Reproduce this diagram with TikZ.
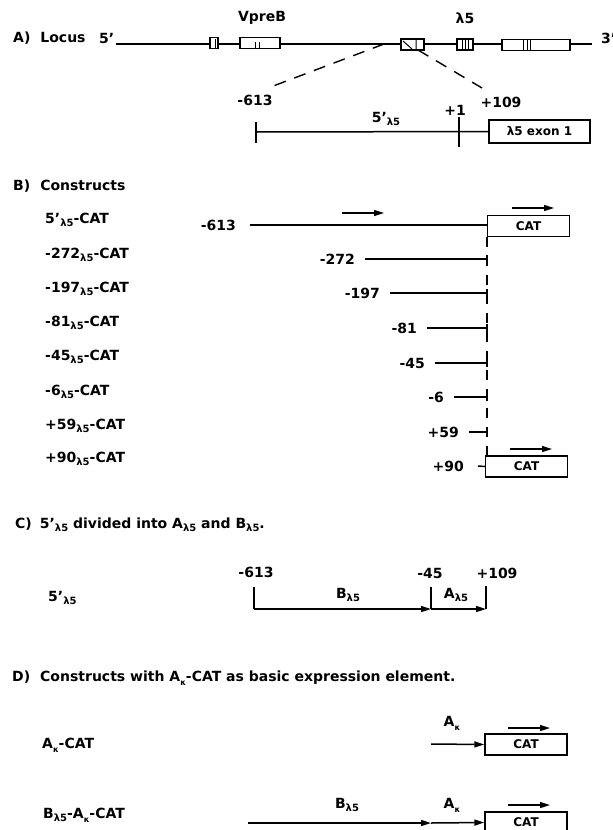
\documentclass[tikz,border=0pt]{standalone}
\usepackage{fontspec}
\setmainfont{DejaVu Sans}
\usetikzlibrary{arrows.meta,positioning}
\newcommand{\sublf}{\raisebox{-0.4ex}{\fontsize{10}{10}\selectfont λ5}}
\newcommand{\subk}{\raisebox{-0.55ex}{\fontsize{8}{8}\selectfont κ}}
\tikzset{
  dna/.style={draw=black, line width=1.5pt},
  tk/.style={draw=black, line width=1.5pt},
  inmark/.style={draw=black, line width=1pt},
  arr/.style={-{Triangle[length=10pt,width=6pt]}, draw=black, line width=1.5pt},
  guide/.style={draw=black, line width=1.4pt, dash pattern=on 10pt off 9pt},
  exon/.style={draw=black, fill=white, line width=1.4pt, inner sep=0pt, minimum height=11pt},
  exbox/.style={draw=black, fill=white, line width=1.4pt, inner sep=0pt,
    minimum width=101pt, minimum height=23pt, font=\fontsize{12}{13}\selectfont\bfseries},
  catbox/.style={draw=black, fill=white, line width=1.4pt, inner sep=0pt,
    minimum width=82pt, minimum height=21pt, font=\fontsize{12}{13}\selectfont\bfseries},
  lbl/.style={anchor=west, inner sep=0pt},
  num/.style={inner sep=0pt}
}
\begin{document}
\begin{tikzpicture}[x=1pt, y=-1pt, font=\fontsize{14}{16}\selectfont\bfseries]
  \useasboundingbox (0,0) rectangle (613,830);

  % A) the locus
  \node[lbl] (tA) at (13,38) {A)\hspace{10pt}Locus};
  \node[lbl] (p5) at (99,38) {5'};
  \node[lbl] (p3) at (601,38) {3'};
  \coordinate (l5) at (116,44);
  \coordinate (l3) at (592,44);
  \draw[dna] (l5) -- (l3);
  \node[exon, minimum width=8pt] (vb1) at (214,43) {};
  \node[exon, minimum width=40pt] (vb2) at (260,43) {};
  \node[exon, minimum width=23pt] (lx1) at (412.5,44.5) {};
  \node[exon, minimum width=16pt] (lx2) at (465,44.5) {};
  \node[exon, minimum width=68pt] (lx3) at (536,45) {};
  \draw[inmark] (215,39) -- (215,48);
  \draw[inmark] (255,42) -- (255,48) (259,42) -- (259,48);
  \draw[inmark] (416,39) -- (416,50) (403,41) -- (412,49);
  \foreach \bx in {462,465,468} \draw[inmark] (\bx,40) -- (\bx,49);
  \foreach \bx in {523,527,530} \draw[inmark] (\bx,39) -- (\bx,51);
  \node (vpreb) at (262,18) {VpreB};
  \node (lflab) at (465,18) {λ5};

  \coordinate (dl1) at (384,44);
  \coordinate (dl2) at (268,88);
  \coordinate (dr1) at (418,50);
  \coordinate (dr2) at (482,88);
  \draw[guide, dash pattern=on 12pt off 9pt] (dl1) -- (dl2);
  \draw[guide, dash pattern=on 12pt off 9pt] (dr1) -- (dr2);

  \node[num] (n613) at (255,100) {-613};
  \node[num] (np1) at (455,110) {+1};
  \node[num] (n109) at (501,102) {+109};
  \node[num] (n5l) at (386,119) {5'\sublf};
  \coordinate (sL) at (256,132);
  \node[exbox] (ex1) at (539.5,131.5) {λ5 exon 1};
  \draw[tk] (256,122) -- (256,143);
  \draw[tk] (459,117) -- (459,147);
  \draw[dna] (sL) -- (ex1.west);

  % B) constructs
  \node[lbl] (tB) at (13,186) {B)\hspace{10pt}Constructs};
  \foreach \lab/\y in {5'/220,-272/255,-197/289,-81/323,-45/357,-6/392,+59/426,+90/459}
    \node[lbl] (cn\y) at (45,\y) {\lab\sublf-CAT};

  \node[num, anchor=east] (r613) at (236,225) {-613};
  \node[catbox] (cat1) at (528.5,226) {CAT};
  \coordinate (s613) at (250,225);
  \draw[dna] (s613) -- (cat1.west |- s613);
  \coordinate (a1s) at (342,213);
  \coordinate (a1e) at (384,213);
  \draw[arr] (a1s) -- (a1e);
  \coordinate (a2s) at (512,208);
  \coordinate (a2e) at (554,208);
  \draw[arr] (a2s) -- (a2e);

  \foreach \lab/\y/\xs in {-272/259/365,-197/293/390,-81/328/427,-45/363/435,-6/397/454,+59/432/469}{
    \coordinate (rs\y) at (\xs,\y);
    \coordinate (re\y) at (487.5,\y);
    \node[num, anchor=east] (rn\y) at ([xshift=-10pt]rs\y) {\lab};
    \draw[dna, -{Bar[width=8pt]}] (rs\y) -- (re\y);
  }

  \node[num, anchor=east] (r90) at (464,466) {+90};
  \node[catbox] (cat8) at (526.5,466.5) {CAT};
  \coordinate (s90) at (478,466);
  \draw[dna] (s90) -- (cat8.west);
  \coordinate (a3s) at (510,449);
  \coordinate (a3e) at (552,449);
  \draw[arr] (a3s) -- (a3e);
  \draw[guide] (cat1.south west) -- (cat1.south west |- cat8.north);

  % C) split of the 5' region
  \node[lbl] (tC) at (15,525) {C)\hspace{8pt}5'\sublf{} divided into A\sublf{} and B\sublf.};
  \node[lbl] (c5l) at (48,598) {5'\sublf};
  \node[num] (c613) at (256,572) {-613};
  \node[num] (c45) at (430,573) {-45};
  \node[num] (c109) at (497,573) {+109};
  \coordinate (cb1) at (254,609);
  \coordinate (cb2) at (431,609);
  \coordinate (cb3) at (486,609);
  \draw[tk] (254,587) -- (cb1);
  \draw[tk] (431,587) -- (cb2);
  \draw[tk] (486,586) -- (cb3);
  \draw[arr] (cb1) -- (cb2);
  \draw[arr] (cb2) -- (cb3);
  \node[num] (cB) at (348,595) {B\sublf};
  \node[num] (cA) at (456,595) {A\sublf};

  % D) A-kappa constructs
  \node[lbl] (tD) at (12,678) {D)\hspace{10pt}Constructs with A\subk-CAT as basic expression element.};
  \node[lbl] (dn1) at (42,745) {A\subk-CAT};
  \node[lbl] (dn2) at (43,815) {B\sublf-A\subk-CAT};

  \node[catbox] (cat9) at (526,744.5) {CAT};
  \coordinate (d1s) at (431,744);
  \draw[arr] (d1s) -- (cat9.west);
  \node[num] (dk1) at (452,723) {A\subk};
  \coordinate (a4s) at (508,728);
  \coordinate (a4e) at (550,728);
  \draw[arr] (a4s) -- (a4e);

  \node[catbox] (cat10) at (526,822.5) {CAT};
  \coordinate (d2s) at (248,823);
  \coordinate (d2m) at (431,823);
  \draw[arr] (d2s) -- (d2m);
  \draw[arr] (d2m) -- (cat10.west);
  \node[num] (dB) at (347,805) {B\sublf};
  \node[num] (dk2) at (452,805) {A\subk};
  \coordinate (a5s) at (508,805);
  \coordinate (a5e) at (550,805);
  \draw[arr] (a5s) -- (a5e);
\end{tikzpicture}
\end{document}
